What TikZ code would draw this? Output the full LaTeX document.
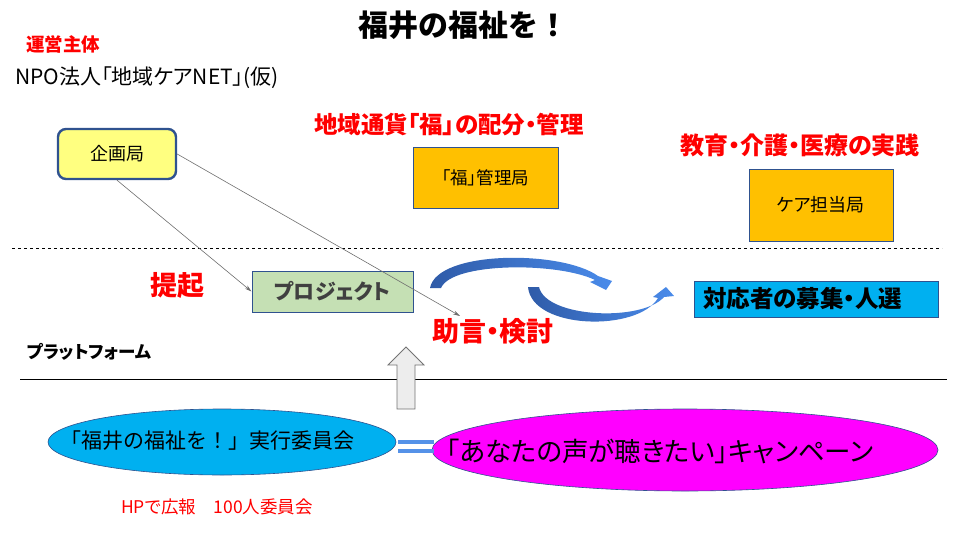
\documentclass[tikz,border=0pt]{standalone}
\usepackage{fontspec}
\setmainfont[RawFeature=+palt]{Noto Sans CJK JP}
\newfontfamily\fullw{Noto Sans CJK JP}
\usetikzlibrary{arrows.meta,shapes.geometric}

\definecolor{hdred}{HTML}{FF0000}
\definecolor{navy}{HTML}{2F528F}
\definecolor{paleyellow}{HTML}{FFFF80}
\definecolor{amber}{HTML}{FFC000}
\definecolor{sage}{HTML}{C5E0B4}
\definecolor{skyblue}{HTML}{00B0F0}
\definecolor{pink}{HTML}{FF00FF}
\definecolor{eqblue}{HTML}{5592E8}
\definecolor{arcdark}{HTML}{2F5BA8}
\definecolor{arclight}{HTML}{4A8BEA}
\definecolor{linkgray}{HTML}{6E6E6E}
\newcommand{\fsz}[1]{\fontsize{#1}{#1}\selectfont}

\begin{document}
\begin{tikzpicture}[x=1pt,y=-1pt,
	head/.style={text=hdred,font=\fsz{23.5}\bfseries},
	office/.style={draw=navy,fill=amber,line width=0.8pt,font=\fsz{17.5}},
	link/.style={draw=linkgray,line width=0.6pt,-{Stealth[length=7pt,width=4pt]}},
	bubble/.style={ellipse,draw=navy,line width=0.6pt,inner sep=0pt}]
	\useasboundingbox (0,0) rectangle (960,540);

	\node [font=\fullw\fsz{30}\bfseries] (title) at (463,25) {福井の福祉を！};
	\node [head,font=\fsz{18.5}\bfseries] (owner) at (63,44) {運営主体};
	\node [anchor=west,font=\fsz{21},inner sep=0pt] (npo) at (15,78) {NPO法人「地域ケアNET」(仮)};

	\node [draw=navy,fill=paleyellow,line width=2.4pt,rounded corners=8pt,minimum width=118pt,minimum height=50pt,font=\fsz{18}] (kikaku) at (117,154) {企画局};
	\node [head] (tsuka) at (449,125) {地域通貨「福」の配分・管理};
	\node [office,minimum width=145pt,minimum height=61pt] (fuku) at (485.5,177.5) {「福」管理局};
	\node [head,font=\fsz{24}\bfseries] (jissen) at (800,145) {教育・介護・医療の実践};
	\node [office,minimum width=144pt,minimum height=72pt,font=\fsz{18}] (care) at (821,205) {ケア担当局};

	\draw [dash pattern=on 3pt off 3pt,line width=0.8pt] (12,248) -- (942,248);

	\node [head,font=\fsz{27}\bfseries] (teiki) at (177,285) {提起};
	\node [draw=navy,fill=sage,line width=1pt,minimum width=161pt,minimum height=41pt,text=black!75,font=\fsz{21}\bfseries] (proj) at (332.5,291.5) {プロジェクト};
	\node [head,font=\fsz{27}\bfseries] (jogen) at (493,331) {助言・検討};
	\coordinate (advice) at (460,316);
	\node [draw=navy,fill=skyblue,line width=1pt,text width=226pt,align=left,inner xsep=9pt,minimum height=36pt,font=\fsz{23.5}\bfseries] (boshu) at (816,299) {対応者の募集・人選};

	% curved arrows
	\shade [left color=arcdark,right color=arclight] (430,288) .. controls (437,250) and (562,250) .. (598,276) -- (612,281) -- (606,290) -- (590,282) -- (595,280) .. controls (558,262) and (452,262) .. (441,288) -- cycle;
	\shade [left color=arcdark,right color=arclight] (528,287) .. controls (532,330) and (638,332) .. (658,298) -- (653,297) -- (666,287) -- (674,296) -- (664,297) .. controls (642,322) and (546,318) .. (539,287) -- cycle;

	\node [font=\fsz{17.5}\bfseries] (platform) at (89,352) {プラットフォーム};
	\draw [line width=1pt] (20,379) -- (947,379);

	\draw [draw=black!55,fill=black!7,line width=0.8pt] (397,409) -- (397,365) -- (388,365) -- (406,347) -- (424,365) -- (415,365) -- (415,409) -- cycle;

	\node [bubble,fill=skyblue,minimum width=348pt,minimum height=66pt] (iinkai) at (222,442) {};
	\node [font=\fullw\fsz{21}] (iinkaitext) at (207,441) {「福井の福祉を！」実行委員会};
	\node [bubble,fill=pink,minimum width=506pt,minimum height=82pt] (koe) at (685,450) {};
	\node [font=\fsz{26.5}] (koetext) at (660,451) {「あなたの声が聴きたい」キャンペーン};
	\draw [eqblue,line width=4pt] (398,442) -- (434,442) (398,451) -- (434,451);

	\node [text=hdred,font=\fsz{17.5}] (hp) at (217,507) {HPで広報　100人委員会};

	\foreach \from/\to in {kikaku.east/advice, kikaku.south/proj.west}
	\draw [link] (\from) -- (\to);
\end{tikzpicture}
\end{document}
